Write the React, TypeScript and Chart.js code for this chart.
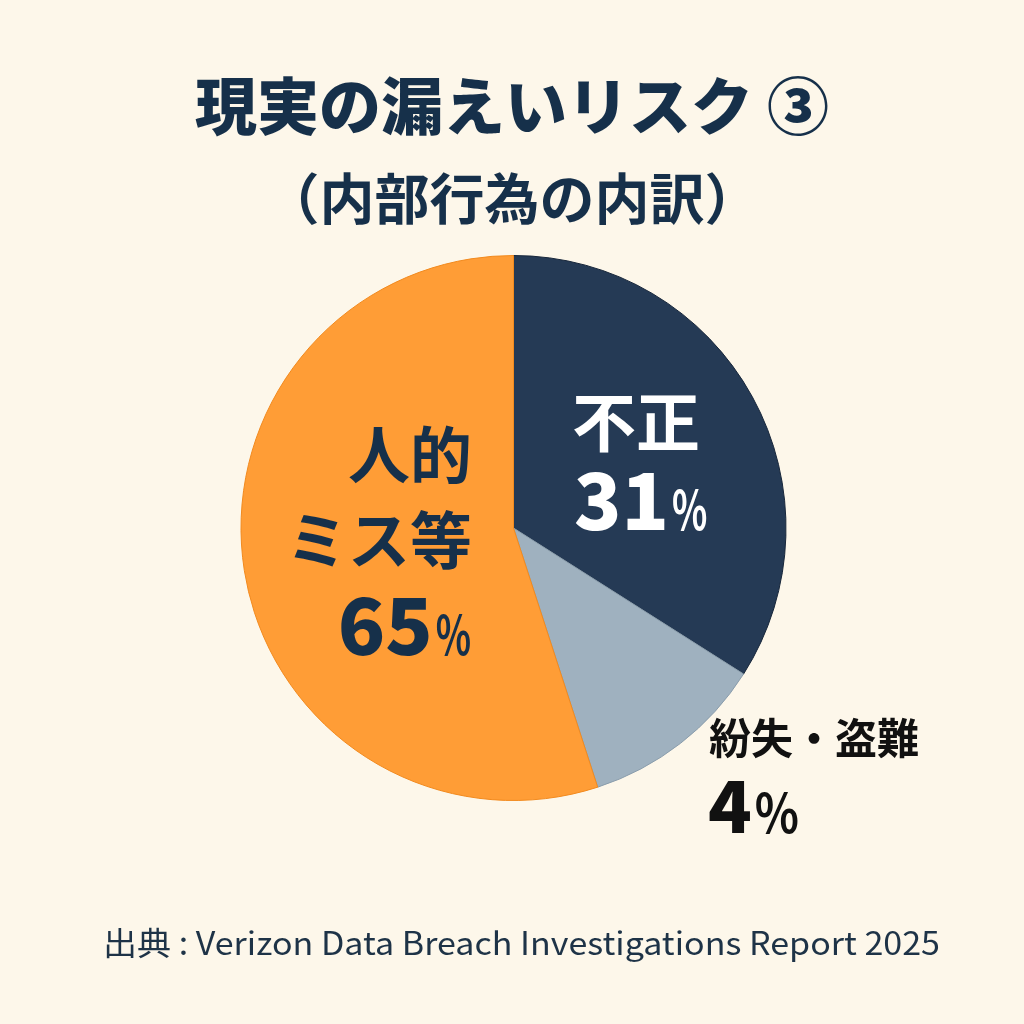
import React, { useEffect, useRef } from "react";
import { Chart, registerables } from "chart.js";

Chart.register(...registerables);

const titleText = "現実の漏えいリスク ③";
const subtitleText = "（内部行為の内訳）";
const sourceText = "出典 : Verizon Data Breach Investigations Report 2025";

const categories = ["不正", "紛失・盗難", "人的ミス等"];
const sliceValues = [34, 11, 55];
const labelPercents = ["31", "4", "65"];
const sliceColors = ["#253A55", "#9FB1BF", "#FF9D36"];
const sliceBorders = ["#17263A", "#8A9DAC", "#F28A1E"];

const BG = "#FDF7EA";
const DARK = "#16304A";
const JP = '"Noto Sans CJK JP", "Noto Sans", sans-serif';

function numPct(
  ctx: CanvasRenderingContext2D,
  num: string,
  x: number,
  baseY: number,
  numSize: number,
  pctSize: number,
  align: "left" | "right",
  color: string,
  pctScale: number
) {
  ctx.save();
  ctx.fillStyle = color;
  ctx.textBaseline = "alphabetic";
  ctx.textAlign = "left";
  const nf = `900 ${numSize}px ${JP}`;
  const pf = `700 ${pctSize}px ${JP}`;
  ctx.font = nf;
  const nw = ctx.measureText(num).width;
  ctx.font = pf;
  const pw = ctx.measureText("%").width * pctScale;
  const gap = 3;
  const startX = align === "left" ? x : x - (nw + gap + pw);
  ctx.font = nf;
  ctx.fillText(num, startX, baseY);
  ctx.font = pf;
  ctx.translate(startX + nw + gap, baseY);
  ctx.scale(pctScale, 1);
  ctx.fillText("%", 0, 0);
  ctx.restore();
}

function textAt(
  ctx: CanvasRenderingContext2D,
  s: string,
  x: number,
  y: number,
  font: string,
  color: string,
  align: CanvasTextAlign
) {
  ctx.save();
  ctx.font = font;
  ctx.fillStyle = color;
  ctx.textAlign = align;
  ctx.textBaseline = "middle";
  ctx.fillText(s, x, y);
  ctx.restore();
}

const bgPlugin = {
  id: "bgFill",
  beforeDraw(chart: any) {
    const ctx = chart.ctx as CanvasRenderingContext2D;
    ctx.save();
    ctx.fillStyle = BG;
    ctx.fillRect(0, 0, chart.width, chart.height);
    ctx.restore();
  },
};

const textPlugin = {
  id: "texts",
  afterDraw(chart: any) {
    const ctx = chart.ctx as CanvasRenderingContext2D;
    // Title & subtitle
    textAt(ctx, titleText, 512, 106, `900 62px ${JP}`, DARK, "center");
    textAt(ctx, subtitleText, 512, 198, `700 55px ${JP}`, DARK, "center");

    // 不正 31%
    textAt(ctx, categories[0], 572, 422, `700 64px ${JP}`, "#FFFFFF", "left");
    numPct(ctx, labelPercents[0], 574, 530, 78, 54, "left", "#FFFFFF", 0.68);

    // 人的ミス等 65%
    textAt(ctx, "人的", 472, 455, `700 62px ${JP}`, DARK, "right");
    textAt(ctx, "ミス等", 472, 540, `700 62px ${JP}`, DARK, "right");
    numPct(ctx, labelPercents[2], 471, 655, 78, 54, "right", DARK, 0.68);

    // 紛失・盗難 4%
    textAt(ctx, categories[1], 709, 738, `700 42px ${JP}`, "#111111", "left");
    numPct(ctx, labelPercents[1], 708, 833, 72, 54, "left", "#111111", 0.85);

    // Source
    ctx.save();
    ctx.font = `400 32px ${JP}`;
    ctx.fillStyle = "#1E3347";
    ctx.textBaseline = "middle";
    ctx.textAlign = "left";
    const w = ctx.measureText(sourceText).width;
    const target = 837;
    ctx.translate(103, 943);
    ctx.scale(target / w, 1);
    ctx.fillText(sourceText, 0, 0);
    ctx.restore();
  },
};

export default function App() {
  const ref = useRef<HTMLCanvasElement>(null);
  useEffect(() => {
    document.body.style.margin = "0";
    document.body.style.background = BG;
    if (!ref.current) return;
    const chart = new Chart(ref.current, {
      type: "pie",
      data: {
        labels: categories,
        datasets: [
          {
            data: sliceValues,
            backgroundColor: sliceColors,
            borderColor: sliceBorders,
            borderWidth: 1,
          },
        ],
      },
      options: {
        responsive: false,
        animation: false,
        layout: { padding: { left: 240, right: 237, top: 255, bottom: 223 } },
        plugins: {
          legend: { display: false },
          tooltip: { enabled: false },
          title: { display: false },
        },
      },
      plugins: [bgPlugin, textPlugin],
    });
    return () => chart.destroy();
  }, []);
  return (
    <div style={{ position: "absolute", left: 0, top: 0, width: 1024, height: 1024, background: BG }}>
      <canvas ref={ref} width={1024} height={1024} style={{ width: 1024, height: 1024, display: "block" }} />
    </div>
  );
}
